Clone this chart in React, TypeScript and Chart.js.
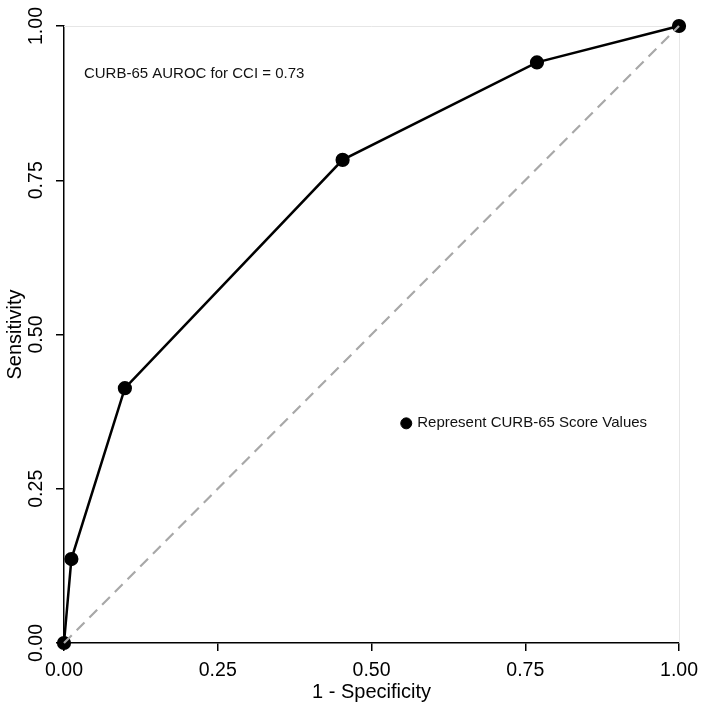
import React, { useEffect, useRef } from "react";
import { Chart, registerables } from "chart.js";

Chart.register(...registerables);

// ROC data for CURB-65 (1 - specificity, sensitivity)
const fpr: number[] = [0, 0.012, 0.099, 0.453, 0.769, 1];
const tpr: number[] = [0, 0.136, 0.413, 0.783, 0.941, 1];

// Reference (chance) diagonal
const refX: number[] = [0, 1];
const refY: number[] = [0, 1];

const tickValues: number[] = [0, 0.25, 0.5, 0.75, 1];

const annotationText = "CURB-65 AUROC for CCI = 0.73";
const annotationPos = { x: 0.0324, y: 0.922 };

const legendText = "Represent CURB-65 Score Values";
const legendPos = { x: 0.5565, y: 0.356 };

const FONT = "'Liberation Sans', Arial, Helvetica, sans-serif";

const overlayPlugin = {
  id: "overlay",
  beforeDatasetsDraw(chart: any) {
    const { ctx, chartArea } = chart;
    ctx.save();
    ctx.strokeStyle = "#e6e6e6";
    ctx.lineWidth = 1;
    ctx.beginPath();
    ctx.moveTo(chartArea.left, chartArea.top + 0.5);
    ctx.lineTo(chartArea.right + 0.5, chartArea.top + 0.5);
    ctx.lineTo(chartArea.right + 0.5, chartArea.bottom);
    ctx.stroke();
    ctx.restore();
  },
  afterDatasetsDraw(chart: any) {
    const { ctx, scales } = chart;
    const xs = scales.x;
    const ys = scales.y;
    ctx.save();
    ctx.fillStyle = "#111111";
    ctx.font = `15px ${FONT}`;
    ctx.textBaseline = "middle";
    ctx.textAlign = "left";
    ctx.fillText(
      annotationText,
      xs.getPixelForValue(annotationPos.x),
      ys.getPixelForValue(annotationPos.y)
    );
    ctx.fillText(
      legendText,
      xs.getPixelForValue(legendPos.x) + 11,
      ys.getPixelForValue(legendPos.y)
    );
    ctx.restore();
  },
};

export default function App() {
  const canvasRef = useRef<HTMLCanvasElement | null>(null);

  useEffect(() => {
    document.body.style.margin = "0";
    const canvas = canvasRef.current;
    if (!canvas) return;

    const chart = new Chart(canvas, {
      type: "scatter",
      data: {
        datasets: [
          {
            label: "Reference",
            data: refX.map((x, i) => ({ x, y: refY[i] })),
            showLine: true,
            borderColor: "#a8a8a8",
            borderWidth: 2.2,
            borderDash: [11, 7],
            pointRadius: 0,
            order: 0,
            clip: false as any,
          },
          {
            label: "CURB-65",
            data: fpr.map((x, i) => ({ x, y: tpr[i] })),
            showLine: true,
            borderColor: "#000000",
            borderWidth: 2.5,
            tension: 0,
            pointRadius: 6.3,
            pointBorderWidth: 1.6,
            pointBackgroundColor: "#000000",
            pointBorderColor: "#000000",
            order: 1,
            clip: false as any,
          },
          {
            label: "Legend marker",
            data: [{ x: legendPos.x, y: legendPos.y }],
            showLine: false,
            pointRadius: 5.5,
            pointBorderWidth: 1,
            pointBackgroundColor: "#000000",
            pointBorderColor: "#000000",
            order: 2,
          },
        ],
      },
      options: {
        responsive: false,
        animation: false,
        events: [],
        layout: { padding: { top: 26, right: 27, bottom: 0, left: 0 } },
        plugins: {
          legend: { display: false },
          tooltip: { enabled: false },
        },
        scales: {
          x: {
            type: "linear",
            min: 0,
            max: 1,
            afterBuildTicks: (scale: any) => {
              scale.ticks = tickValues.map((v) => ({ value: v }));
            },
            afterFit: (scale: any) => {
              scale.height = 68;
            },
            ticks: {
              callback: (v: any) => Number(v).toFixed(2),
              font: { family: FONT, size: 19.5, lineHeight: 1 },
              color: "#000000",
              padding: 10,
              maxRotation: 0,
              autoSkip: false,
            },
            grid: {
              display: true,
              drawOnChartArea: false,
              drawTicks: true,
              tickLength: 8,
              color: "#000000",
              lineWidth: 1.5,
            },
            border: { display: true, color: "#000000", width: 1.5 },
            title: {
              display: true,
              text: "1 - Specificity",
              font: { family: FONT, size: 20, lineHeight: 1 },
              color: "#000000",
              padding: { top: 0, bottom: 9 },
            },
          },
          y: {
            type: "linear",
            min: 0,
            max: 1,
            afterBuildTicks: (scale: any) => {
              scale.ticks = tickValues.map((v) => ({ value: v }));
            },
            afterFit: (scale: any) => {
              scale.width = 64;
            },
            ticks: {
              callback: (v: any) => Number(v).toFixed(2),
              font: { family: FONT, size: 19.5, lineHeight: 1 },
              color: "#000000",
              padding: 0,
              minRotation: 90,
              maxRotation: 90,
              crossAlign: "center",
              autoSkip: false,
            },
            grid: {
              display: true,
              drawOnChartArea: false,
              drawTicks: true,
              tickLength: 8,
              color: "#000000",
              lineWidth: 1.5,
            },
            border: { display: true, color: "#000000", width: 1.5 },
            title: {
              display: true,
              text: "Sensitivity",
              font: { family: FONT, size: 20, lineHeight: 1 },
              color: "#000000",
              padding: { top: 5, bottom: 0 },
            },
          },
        },
      },
      plugins: [overlayPlugin],
    });

    return () => {
      chart.destroy();
    };
  }, []);

  return (
    <div style={{ width: 708, height: 711, background: "#ffffff" }}>
      <canvas ref={canvasRef} width={708} height={711} style={{ display: "block" }} />
    </div>
  );
}
